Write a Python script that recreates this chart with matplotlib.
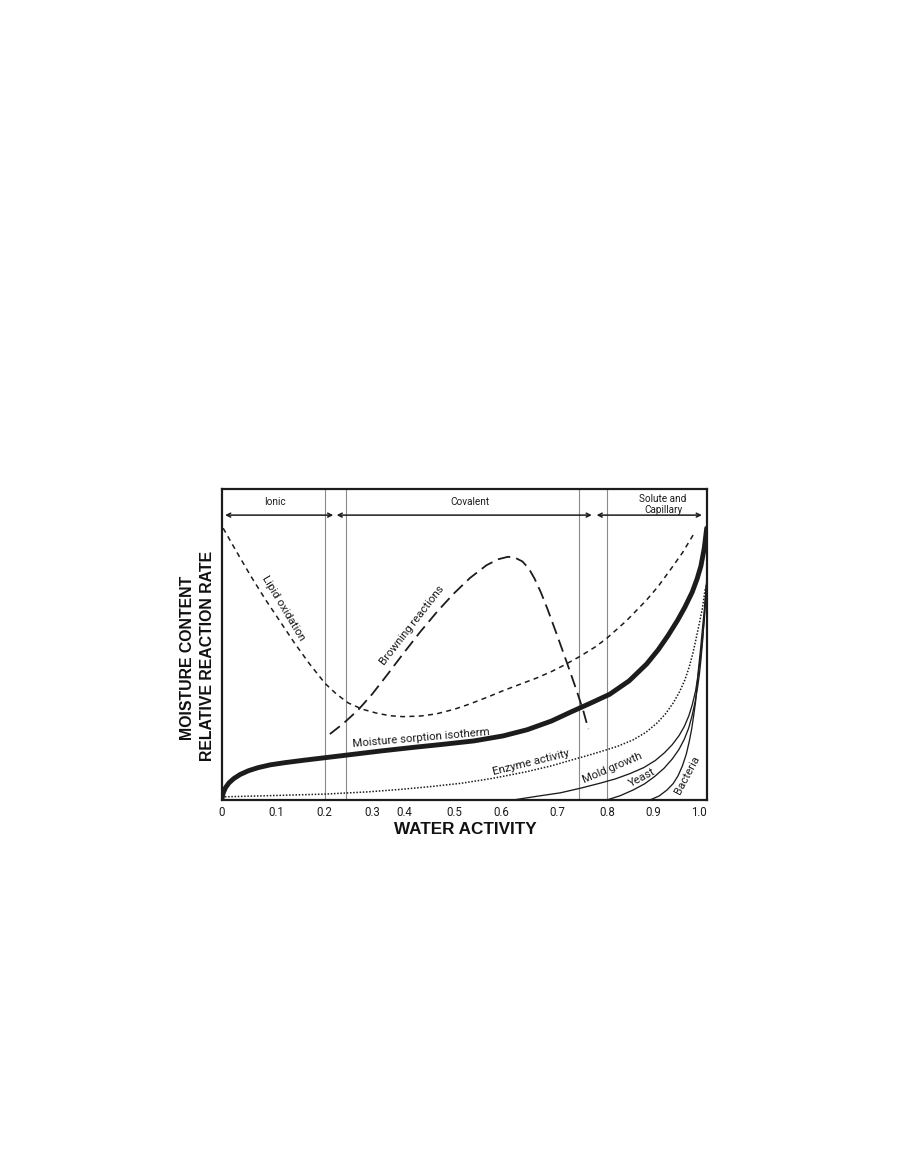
import matplotlib
matplotlib.use("Agg")
import matplotlib.pyplot as plt

# ---------------- data (water activity, relative value) ----------------
isotherm_x = [0.0, 0.003, 0.008, 0.015, 0.025, 0.038, 0.055, 0.075, 0.10, 0.13, 0.17,
              0.213, 0.261, 0.33, 0.40, 0.45, 0.52, 0.58, 0.63, 0.68, 0.72, 0.76,
              0.80, 0.84, 0.876, 0.90, 0.92, 0.94, 0.955, 0.97, 0.98, 0.988, 0.995, 1.0]
isotherm_y = [0.0, 0.022, 0.040, 0.055, 0.069, 0.082, 0.094, 0.104, 0.113, 0.120, 0.128,
              0.136, 0.145, 0.158, 0.170, 0.178, 0.190, 0.206, 0.226, 0.254, 0.283, 0.311,
              0.340, 0.383, 0.437, 0.483, 0.528, 0.578, 0.620, 0.668, 0.710, 0.752, 0.810, 0.874]

lipid_x = [0.003, 0.03, 0.06, 0.09, 0.12, 0.15, 0.18, 0.213, 0.237, 0.261, 0.29, 0.320,
           0.347, 0.374, 0.41, 0.443, 0.48, 0.512, 0.55, 0.581, 0.615, 0.649, 0.68, 0.704,
           0.739, 0.77, 0.794, 0.835, 0.876, 0.90, 0.924, 0.95, 0.972]
lipid_y = [0.874, 0.800, 0.720, 0.645, 0.575, 0.505, 0.440, 0.375, 0.340, 0.312, 0.292, 0.279,
           0.271, 0.268, 0.270, 0.277, 0.292, 0.309, 0.332, 0.352, 0.372, 0.392, 0.413, 0.432,
           0.462, 0.492, 0.520, 0.577, 0.643, 0.687, 0.738, 0.795, 0.852]

browning_x = [0.223, 0.25, 0.281, 0.31, 0.34, 0.374, 0.409, 0.445, 0.478, 0.512, 0.546,
              0.57, 0.59, 0.605, 0.62, 0.633, 0.645, 0.658, 0.672, 0.691, 0.711, 0.73,
              0.745, 0.756]
browning_y = [0.212, 0.245, 0.289, 0.340, 0.400, 0.470, 0.540, 0.607, 0.663, 0.714, 0.755,
              0.774, 0.782, 0.779, 0.767, 0.745, 0.712, 0.668, 0.613, 0.532, 0.445, 0.360,
              0.290, 0.228]

enzyme_x = [0.0, 0.1, 0.213, 0.30, 0.368, 0.43, 0.495, 0.56, 0.629, 0.68, 0.718, 0.75,
            0.78, 0.815, 0.848, 0.875, 0.898, 0.915, 0.931, 0.944, 0.955, 0.964, 0.972,
            0.979, 0.985, 0.991, 0.997]
enzyme_y = [0.010, 0.014, 0.019, 0.026, 0.034, 0.043, 0.054, 0.070, 0.091, 0.110, 0.127, 0.141,
            0.155, 0.172, 0.193, 0.218, 0.248, 0.277, 0.312, 0.348, 0.386, 0.428, 0.475,
            0.525, 0.570, 0.615, 0.680]

mold_x = [0.601, 0.65, 0.698, 0.74, 0.78, 0.812, 0.842, 0.87, 0.894, 0.913, 0.929, 0.943,
          0.954, 0.963, 0.970, 0.977, 0.982, 0.987, 0.991, 0.995, 0.998, 1.0]
mold_y = [0.0, 0.012, 0.023, 0.038, 0.054, 0.068, 0.085, 0.104, 0.127, 0.152, 0.178, 0.207,
          0.237, 0.270, 0.305, 0.350, 0.400, 0.455, 0.514, 0.580, 0.645, 0.707]

yeast_x = [0.794, 0.822, 0.848, 0.872, 0.893, 0.912, 0.929, 0.943, 0.954, 0.963, 0.970,
           0.976, 0.981, 0.985, 0.988, 0.992, 0.995, 0.999]
yeast_y = [0.0, 0.014, 0.032, 0.052, 0.076, 0.102, 0.132, 0.163, 0.196, 0.232, 0.272,
           0.315, 0.360, 0.405, 0.450, 0.520, 0.590, 0.690]

bacteria_x = [0.883, 0.902, 0.918, 0.931, 0.941, 0.950, 0.958, 0.964, 0.969, 0.973, 0.977,
              0.980, 0.983, 0.987, 0.991, 0.995, 1.0]
bacteria_y = [0.0, 0.013, 0.032, 0.053, 0.078, 0.110, 0.148, 0.188, 0.228, 0.270, 0.315,
              0.365, 0.420, 0.480, 0.547, 0.610, 0.700]

tick_pos = [0.0, 0.112, 0.211, 0.311, 0.377, 0.480, 0.577, 0.691, 0.794, 0.889, 0.984]
tick_labels = ["0", "0.1", "0.2", "0.3", "0.4", "0.5", "0.6", "0.7", "0.8", "0.9", "1.0"]

boundary_x = [0.212, 0.257, 0.737, 0.795]

regions = ["Ionic", "Covalent", "Solute and\nCapillary"]
region_label_x = [0.110, 0.512, 0.910]
region_span = [(0.007, 0.230), (0.237, 0.763), (0.773, 0.990)]

# ---------------- figure ----------------
fig = plt.figure(figsize=(9, 11.52), dpi=100)
ax = fig.add_axes([221.7 / 900, 352 / 1152, 485 / 900, 311 / 1152])
ax.set_xlim(0, 1)
ax.set_ylim(0, 1)

ink = "#1c1c1c"
txtfont = ["Roboto", "DejaVu Sans"]

for xb in boundary_x:
    ax.axvline(xb, color="#8a8a8a", lw=0.8, zorder=1)

ax.plot(lipid_x, lipid_y, color=ink, lw=1.1, dashes=(3.3, 2.8), zorder=3)
ax.plot(browning_x, browning_y, color=ink, lw=1.3, dashes=(7.0, 3.4), zorder=3)
ax.plot(isotherm_x, isotherm_y, color=ink, lw=3.5, solid_capstyle="round",
        solid_joinstyle="round", zorder=4)
ax.plot(enzyme_x, enzyme_y, color=ink, lw=1.1, dashes=(1.0, 1.1), zorder=3)
ax.plot(mold_x, mold_y, color=ink, lw=0.95, zorder=3)
ax.plot(yeast_x, yeast_y, color=ink, lw=0.95, zorder=3)
ax.plot(bacteria_x, bacteria_y, color=ink, lw=0.95, zorder=3)

# region arrows and labels
for name, lx, (x0, x1) in zip(regions, region_label_x, region_span):
    ax.annotate("", xy=(x0, 0.916), xytext=(x1, 0.916),
                arrowprops=dict(arrowstyle="<->", color=ink, lw=1.1,
                                mutation_scale=7, shrinkA=0, shrinkB=0))
    ax.text(lx, 0.958 if "\n" not in name else 0.950, name, ha="center", va="center",
            fontsize=7.2, family=txtfont, color=ink, linespacing=1.2)

# curve labels
def lab(x, y, s, rot):
    ax.text(x, y, s, ha="center", va="center", rotation=rot, rotation_mode="anchor",
            fontsize=8.2, family=txtfont, color=ink, zorder=5)

lab(0.127, 0.617, "Lipid oxidation", -59)
lab(0.392, 0.562, "Browning reactions", 52)
lab(0.411, 0.198, "Moisture sorption isotherm", 5)
lab(0.638, 0.121, "Enzyme activity", 14)
lab(0.805, 0.104, "Mold growth", 23)
lab(0.866, 0.071, "Yeast", 28)
lab(0.960, 0.080, "Bacteria", 62)

# ticks
ax.set_xticks(tick_pos)
ax.set_xticklabels(tick_labels, family=txtfont, fontsize=8.3, color=ink)
ax.tick_params(axis="x", length=0, pad=4)
ax.set_yticks([])
for sp in ax.spines.values():
    sp.set_linewidth(1.6)
    sp.set_color(ink)

boldfam = ["Liberation Sans", "DejaVu Sans"]
fig.text(465 / 900, 1 - 829 / 1152, "WATER ACTIVITY", ha="center", va="center",
         fontsize=12.3, fontweight="bold", family=boldfam, color="#111111")
fig.text(187 / 900, 1 - 658 / 1152, "MOISTURE CONTENT", ha="center", va="center",
         rotation=90, fontsize=11.4, fontweight="bold", family=boldfam, color="#111111")
fig.text(207 / 900, 1 - 656 / 1152, "RELATIVE REACTION RATE", ha="center", va="center",
         rotation=90, fontsize=11.4, fontweight="bold", family=boldfam, color="#111111")

fig.savefig("out.png", dpi=100)
